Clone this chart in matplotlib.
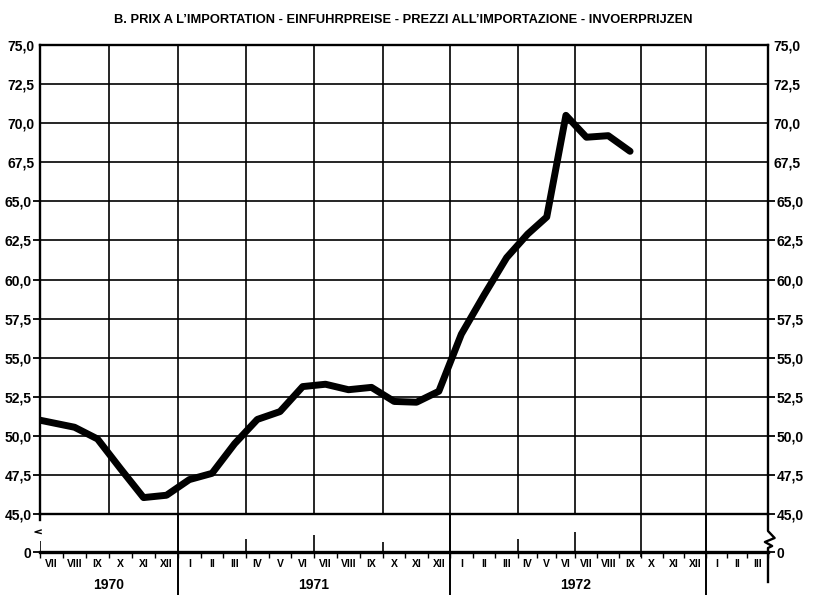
import matplotlib
matplotlib.use("Agg")
import matplotlib.pyplot as plt
import numpy as np

# ---------------- data ----------------
title = "B. PRIX A L\u2019IMPORTATION - EINFUHRPREISE - PREZZI ALL\u2019IMPORTAZIONE - INVOERPRIJZEN"
first_month = (1970, 6)          # first plotted value (June 1970, enters from the left edge)
axis_start = (1970, 7)           # left edge of the time axis = start of July 1970
n_axis_months = 33               # July 1970 .. March 1973
price_index = [51.15, 50.85, 50.55, 49.8, 47.9, 46.05, 46.2,      # VI-XII 1970
               47.2, 47.6, 49.5, 51.05, 51.55, 53.15,              # I-VI 1971
               53.3, 52.95, 53.1, 52.2, 52.15, 52.85,              # VII-XII 1971
               56.5, 59.0, 61.4, 62.9, 64.0, 70.5,                 # I-VI 1972
               69.1, 69.2, 68.2]                                   # VII-IX 1972
roman = ["I", "II", "III", "IV", "V", "VI", "VII", "VIII", "IX", "X", "XI", "XII"]
years = [1970, 1971, 1972]
y_major = [45.0, 47.5, 50.0, 52.5, 55.0, 57.5, 60.0, 62.5, 65.0]
y_minor = [67.5, 70.0, 72.5, 75.0]

# hand-drawn (slightly irregular) quarterly spacing of the original time axis
quarter_knots = np.arange(0, 34, 3)
quarter_span = np.array([40, 109, 178, 246, 314, 383, 450, 518, 575.5, 641, 706, 768], float)

def _fwd(m):
    m = np.asarray(m, float)
    shp = m.shape
    m = np.atleast_1d(m)
    u = np.interp(m, quarter_knots, quarter_span)
    lo = m < quarter_knots[0]
    hi = m > quarter_knots[-1]
    s0 = (quarter_span[1] - quarter_span[0]) / 3
    s1 = (quarter_span[-1] - quarter_span[-2]) / 3
    u[lo] = quarter_span[0] + (m[lo] - quarter_knots[0]) * s0
    u[hi] = quarter_span[-1] + (m[hi] - quarter_knots[-1]) * s1
    return u.reshape(shp)

def _inv(u):
    u = np.asarray(u, float)
    shp = u.shape
    u = np.atleast_1d(u)
    m = np.interp(u, quarter_span, quarter_knots)
    lo = u < quarter_span[0]
    hi = u > quarter_span[-1]
    s0 = 3 / (quarter_span[1] - quarter_span[0])
    s1 = 3 / (quarter_span[-1] - quarter_span[-2])
    m[lo] = quarter_knots[0] + (u[lo] - quarter_span[0]) * s0
    m[hi] = quarter_knots[-1] + (u[hi] - quarter_span[-1]) * s1
    return m.reshape(shp)

# ---------------- style ----------------
plt.rcParams["font.family"] = ["Liberation Sans Narrow", "Liberation Sans", "DejaVu Sans"]
plt.rcParams["font.weight"] = "bold"

W, H = 814, 595
fig = plt.figure(figsize=(W / 100, H / 100), dpi=100)
fig.patch.set_facecolor("white")

def fmt(v):
    return f"{v:.1f}".replace(".", ",")

# main axes (45 .. 75)
ax = fig.add_axes([40 / W, 1 - 514 / H, 728 / W, (514 - 45) / H])
ax.set_xscale("function", functions=(_fwd, _inv))
ax.set_xlim(0, n_axis_months)
ax.set_ylim(45, 75)

off = (first_month[0] - axis_start[0]) * 12 + (first_month[1] - axis_start[1])
x = np.arange(len(price_index)) + off + 0.5
ax.plot(x, price_index, color="black", lw=5.0, solid_joinstyle="round",
        solid_capstyle="round", zorder=5)

ax.set_xticks(np.arange(0, n_axis_months + 1, 3))
ax.set_xticklabels([])
ax.xaxis.set_minor_locator(matplotlib.ticker.NullLocator())
ax.tick_params(axis="x", length=0)
ax.grid(True, axis="x", color="black", lw=1.2)

ax.set_yticks(y_major)
ax.set_yticklabels([fmt(v) for v in y_major])
ax.set_yticks(y_minor, minor=True)
ax.set_yticklabels([fmt(v) for v in y_minor], minor=True)
ax.tick_params(axis="y", which="major", left=True, right=True, labelleft=True,
               labelright=True, length=5, width=1.3, pad=1, labelsize=10, direction="out")
ax.tick_params(axis="y", which="minor", left=True, right=True, labelleft=True,
               labelright=True, length=0, pad=4, labelsize=10)
ax.grid(True, axis="y", which="both", color="black", lw=1.2)
for s in ax.spines.values():
    s.set_linewidth(1.7)
ax.set_axisbelow(True)

# lower strip with the zero line (y units ~ pixels, 0 = zero line)
ax2 = fig.add_axes([40 / W, 0, 728 / W, 81 / H])
ax2.set_xscale("function", functions=(_fwd, _inv))
ax2.set_xlim(0, n_axis_months)
ax2.set_ylim(-43, 38)
ax2.patch.set_alpha(0)
for k in ["top", "left", "right"]:
    ax2.spines[k].set_visible(False)
ax2.spines["bottom"].set_position(("data", 0))
ax2.spines["bottom"].set_linewidth(2.4)

ax2.set_xticks(np.arange(0, n_axis_months + 1))
ax2.set_xticklabels([])
ax2.tick_params(axis="x", which="major", length=4, width=1.0, direction="out")
mid = np.arange(n_axis_months) + 0.5
ax2.set_xticks(mid, minor=True)
ax2.set_xticklabels([roman[(axis_start[1] - 1 + i) % 12] for i in range(n_axis_months)],
                    minor=True, fontsize=7.5)
ax2.tick_params(axis="x", which="minor", length=0, pad=5)

ax2.set_yticks([0])
ax2.set_yticklabels(["0"])
ax2.tick_params(axis="y", left=True, right=True, labelleft=True, labelright=True,
                length=5, width=1.3, pad=1, labelsize=10)

# year separators and year labels
for i, yr in enumerate(years):
    start = (yr - axis_start[0]) * 12 - (axis_start[1] - 1)
    s0, s1 = max(start, 0), min(start + 12, n_axis_months)
    if start > 0:
        ax2.vlines(start, -43, 38, color="black", lw=1.4, clip_on=False)
    ax2.text((s0 + s1) / 2, -33, str(yr), ha="center", va="center", fontsize=10)
ax2.vlines(30, -43, 38, color="black", lw=1.4, clip_on=False)
ax2.vlines(27, -5, 38, color="black", lw=1.2, clip_on=False)

# short up-ticks on the zero line
for q, h in [(0, 11), (9, 13), (12, 17), (15, 10), (21, 13), (24, 20)]:
    ax2.vlines(q, 0, h, color="black", lw=1.2)

# broken left axis
ax2.plot([0, 0], [38, 32], color="black", lw=1.7, clip_on=False)
ax2.plot([0.05, -0.22, 0.05], [22, 20, 18.5], color="black", lw=1.0, clip_on=False)
# broken right axis with zig-zag
ax2.plot([33, 33, 33.32, 32.85, 33.2, 33, 33], [38, 21, 14, 10, 6, 4, -30],
         color="black", lw=1.7, clip_on=False)

fig.text(403 / W, 1 - 20 / H, title, ha="center", va="center", fontsize=9.3)

fig.savefig("out.png", dpi=100, facecolor="white")
